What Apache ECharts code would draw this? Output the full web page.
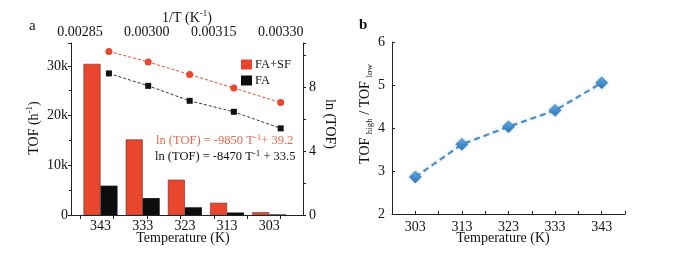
<!DOCTYPE html>
<html>
<head>
<meta charset="utf-8">
<script src="https://cdn.jsdelivr.net/npm/echarts@6/dist/echarts.min.js"></script>
<style>
  html, body { margin: 0; padding: 0; background: #fff; }
  #main { width: 688px; height: 253px; }
</style>
</head>
<body>
<div id="main"></div>
<script>
// panel a: TOF bars (left axis) + ln(TOF) vs 1/T (right/top axes)
var temps = [343, 333, 323, 313, 303];
var tofFASF = [30400, 15200, 7100, 2450, 550];
var tofFA = [5900, 3400, 1550, 500, 120];
var invT = [0.002915, 0.003003, 0.003096, 0.003195, 0.003300];
var lnFASF = [10.27, 9.61, 8.82, 7.97, 7.06];
var lnFA = [8.89, 8.11, 7.17, 6.48, 5.44];
var topTicks = [0.00285, 0.00300, 0.00315, 0.00330];
var topMinor = [0.00285, 0.002925, 0.00300, 0.003075, 0.00315, 0.003225, 0.00330];

// panel b: TOF ratio
var tempsB = [303, 313, 323, 333, 343];
var ratio = [2.86, 3.62, 4.03, 4.41, 5.05];
var tempTicksB = [303, 308, 313, 318, 323, 328, 333, 338, 343, 348];

var FONT = 'Liberation Serif';
var INK = '#111111';
var RED = '#e8462e';
var RED_TXT = '#e8684f';

function pairs(xs, ys) {
    return xs.map(function (x, i) { return [x, ys[i]]; });
}

// rich text with a small raised/lowered piece, for graphic texts
function richStyle(color, lh, size) {
    size = size || 14;
    return {
        a: { fontFamily: FONT, fontSize: size, fill: color, lineHeight: lh },
        s: { fontFamily: FONT, fontSize: 9, fill: color, verticalAlign: 'top', lineHeight: lh },
        d: { fontFamily: FONT, fontSize: 9, fill: color, verticalAlign: 'bottom', lineHeight: lh }
    };
}

var lbl = { fontFamily: FONT, fontSize: 14, color: INK };
var axLine = { lineStyle: { color: '#222', width: 1 } };

var myChart = echarts.init(document.getElementById('main'));

option = {
    backgroundColor: '#ffffff',
    animation: false,
    grid: [
        { left: 71, top: 43, width: 232, height: 172 },
        { left: 392, top: 42, width: 233, height: 172 }
    ],
    legend: {
        left: 236, top: 53,
        orient: 'vertical',
        itemWidth: 11, itemHeight: 10, itemGap: 3,
        itemStyle: { borderWidth: 0 },
        textStyle: { fontFamily: FONT, fontSize: 12.5, color: INK, padding: [0, 0, 0, -2] },
        data: [{ name: 'FA+SF', icon: 'rect' }, { name: 'FA', icon: 'rect' }]
    },
    xAxis: [
        {   // a bottom: temperature
            gridIndex: 0, type: 'value', inverse: true, min: 295, max: 350,
            axisLine: axLine, splitLine: { show: false },
            axisTick: { show: false },
            axisLabel: Object.assign({ customValues: temps, margin: 4 }, lbl)
        },
        {   // a top: 1/T
            gridIndex: 0, type: 'value', position: 'top', min: 0.00283, max: 0.00335,
            axisLine: axLine, splitLine: { show: false },
            axisTick: { customValues: topMinor, inside: true, length: 4, lineStyle: { color: '#222' } },
            axisLabel: Object.assign({
                customValues: topTicks, margin: 4,
                formatter: function (v) { return v.toFixed(5); }
            }, lbl)
        },
        {   // b bottom
            gridIndex: 1, type: 'value', min: 298, max: 348,
            axisLine: axLine, splitLine: { show: false },
            axisTick: { customValues: tempTicksB, inside: true, length: 3, lineStyle: { color: '#222' } },
            axisLabel: Object.assign({ customValues: tempsB, margin: 6 }, lbl)
        }
    ],
    yAxis: [
        {   // a left: TOF
            gridIndex: 0, type: 'value', min: 0, max: 34600, interval: 10000,
            axisLine: { show: true, lineStyle: { color: '#222' } }, splitLine: { show: false },
            axisTick: { length: 3, lineStyle: { color: '#222' } },
            minorTick: { show: true, splitNumber: 2, length: 2, lineStyle: { color: '#222' } },
            axisLabel: Object.assign({
                margin: 3, showMaxLabel: false,
                formatter: function (v) { return v === 0 ? '0' : (v / 1000) + 'k'; }
            }, lbl)
        },
        {   // a right: ln(TOF)
            gridIndex: 0, type: 'value', position: 'right', min: 0, max: 10.8, interval: 4,
            axisLine: { show: true, lineStyle: { color: '#222' } }, splitLine: { show: false },
            axisTick: { length: 3, lineStyle: { color: '#222' } },
            minorTick: { show: true, splitNumber: 2, length: 3, lineStyle: { color: '#222' } },
            axisLabel: Object.assign({ margin: 6, showMaxLabel: false }, lbl)
        },
        {   // b left
            gridIndex: 1, type: 'value', min: 2, max: 6, interval: 1,
            axisLine: { show: true, lineStyle: { color: '#222' } }, splitLine: { show: false },
            axisTick: { inside: true, length: 3, lineStyle: { color: '#222' } },
            axisLabel: Object.assign({ margin: 7 }, lbl)
        }
    ],
    series: [
        {
            name: 'FA+SF', type: 'bar', xAxisIndex: 0, yAxisIndex: 0,
            barWidth: 17, barGap: '0%',
            itemStyle: { color: RED, borderColor: '#6b2a1c', borderWidth: 0.6 },
            data: pairs(temps, tofFASF)
        },
        {
            name: 'FA', type: 'bar', xAxisIndex: 0, yAxisIndex: 0,
            barWidth: 17, barGap: '0%',
            itemStyle: { color: '#0d0d0d' },
            data: pairs(temps, tofFA)
        },
        {
            name: 'ln FA+SF', type: 'line', xAxisIndex: 1, yAxisIndex: 1,
            symbol: 'circle', symbolSize: 7,
            itemStyle: { color: RED },
            lineStyle: { color: RED, width: 1, type: [3, 2] },
            data: pairs(invT, lnFASF)
        },
        {
            name: 'ln FA', type: 'line', xAxisIndex: 1, yAxisIndex: 1,
            symbol: 'rect', symbolSize: 6,
            itemStyle: { color: '#111' },
            lineStyle: { color: '#333', width: 1, type: [3, 2] },
            data: pairs(invT, lnFA)
        },
        {
            name: 'ratio', type: 'line', xAxisIndex: 2, yAxisIndex: 2,
            symbol: 'diamond', symbolSize: 12,
            itemStyle: {
                color: new echarts.graphic.LinearGradient(0, 0, 0, 1, [
                    { offset: 0, color: '#62aee6' },
                    { offset: 1, color: '#2b73b3' }
                ]),
                borderColor: '#2a6aa3', borderWidth: 0.5,
                shadowColor: 'rgba(60,120,180,0.35)', shadowBlur: 3
            },
            lineStyle: {
                color: '#4a8cc6', width: 2.2, type: [6, 4],
                shadowColor: 'rgba(90,150,210,0.35)', shadowBlur: 5
            },
            data: pairs(tempsB, ratio)
        }
    ],
    graphic: [
        { type: 'text', left: 29, top: 19, style: { text: 'a', font: '15px ' + FONT, fill: INK } },
        { type: 'text', left: 359, top: 18, style: { text: 'b', font: 'bold 15px ' + FONT, fill: INK } },
        {
            type: 'text', x: 187, y: 18,
            style: { text: '{a|1/T (K}{s|-1}{a|)}', align: 'center', verticalAlign: 'middle', rich: richStyle(INK, 18) }
        },
        {
            type: 'text', x: 34, y: 128, rotation: Math.PI / 2,
            style: { text: '{a|TOF (h}{s|-1}{a|)}', align: 'center', verticalAlign: 'middle', rich: richStyle(INK, 18) }
        },
        {
            type: 'text', x: 330, y: 124, rotation: -Math.PI / 2,
            style: { text: 'ln (TOF)', font: '14px ' + FONT, fill: INK, align: 'center', verticalAlign: 'middle' }
        },
        {
            type: 'text', x: 183, y: 238,
            style: { text: 'Temperature (K)', font: '14px ' + FONT, fill: INK, align: 'center', verticalAlign: 'middle' }
        },
        {
            type: 'text', x: 503, y: 238,
            style: { text: 'Temperature (K)', font: '14px ' + FONT, fill: INK, align: 'center', verticalAlign: 'middle' }
        },
        {
            type: 'text', x: 365, y: 114, rotation: Math.PI / 2,
            style: { text: '{a|TOF }{d|high}{a| / TOF }{d|low}', align: 'center', verticalAlign: 'middle', rich: richStyle(INK, 18) }
        },
        {
            type: 'text', x: 156, y: 141,
            style: { text: '{a|ln (TOF) = -9850 T}{s|-1}{a|+ 39.2}', verticalAlign: 'middle', rich: richStyle(RED_TXT, 16, 12.5) }
        },
        {
            type: 'text', x: 155, y: 157,
            style: { text: '{a|ln (TOF) = -8470 T}{s|-1}{a| + 33.5}', verticalAlign: 'middle', rich: richStyle(INK, 16, 12.5) }
        }
    ]
};

myChart.setOption(option);
</script>
</body>
</html>
